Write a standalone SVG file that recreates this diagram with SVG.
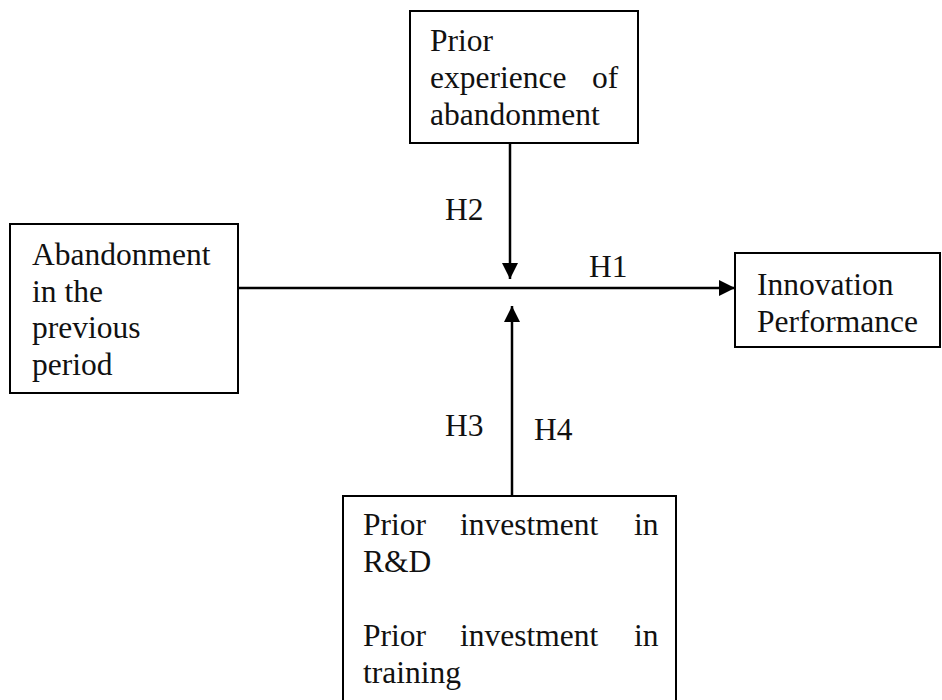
<svg xmlns="http://www.w3.org/2000/svg" width="942" height="700" viewBox="0 0 942 700">
<defs>
<style>
.box{fill:#fff;stroke:#000;stroke-width:2}
.t{font-family:"Liberation Serif","Times New Roman",serif;font-size:31.5px;fill:#111}
.c{stroke:#000;stroke-width:2.5;fill:none}
</style>
<marker id="ah" viewBox="0 0 10 10" refX="10" refY="5" markerWidth="16" markerHeight="16" markerUnits="userSpaceOnUse" orient="auto">
<path d="M0,0 L10,5 L0,10 Z" fill="#000"/>
</marker>
</defs>
<rect width="942" height="700" fill="#fff"/>
<g id="connectors">
<line class="c" x1="238" y1="288" x2="735" y2="288" marker-end="url(#ah)"/>
<line class="c" x1="510" y1="143" x2="510" y2="279" marker-end="url(#ah)"/>
<line class="c" x1="512" y1="496" x2="512" y2="306" marker-end="url(#ah)"/>
<text class="t" x="445" y="220">H2</text>
<text class="t" x="589" y="277">H1</text>
<text class="t" x="445" y="436">H3</text>
<text class="t" x="534" y="440">H4</text>
</g>
<g id="node-prior-experience">
<rect class="box" x="410" y="11" width="228" height="132"/>
<text class="t"><tspan x="430" y="51">Prior</tspan><tspan x="430" y="88">experience</tspan><tspan x="592" y="88">of</tspan><tspan x="430" y="125">abandonment</tspan></text>
</g>
<g id="node-abandonment">
<rect class="box" x="10" y="224" width="228" height="169"/>
<text class="t"><tspan x="32" y="265">Abandonment</tspan><tspan x="32" y="302">in the</tspan><tspan x="32" y="338">previous</tspan><tspan x="32" y="375">period</tspan></text>
</g>
<g id="node-innovation">
<rect class="box" x="735" y="253" width="205" height="94"/>
<text class="t"><tspan x="757" y="295">Innovation</tspan><tspan x="757" y="332">Performance</tspan></text>
</g>
<g id="node-investment">
<rect class="box" x="343" y="496" width="333" height="220"/>
<text class="t"><tspan x="363" y="535">Prior</tspan><tspan x="460" y="535">investment</tspan><tspan x="634" y="535">in</tspan><tspan x="363" y="572">R&amp;D</tspan><tspan x="363" y="646">Prior</tspan><tspan x="460" y="646">investment</tspan><tspan x="634" y="646">in</tspan><tspan x="363" y="683">training</tspan></text>
</g>
</svg>
